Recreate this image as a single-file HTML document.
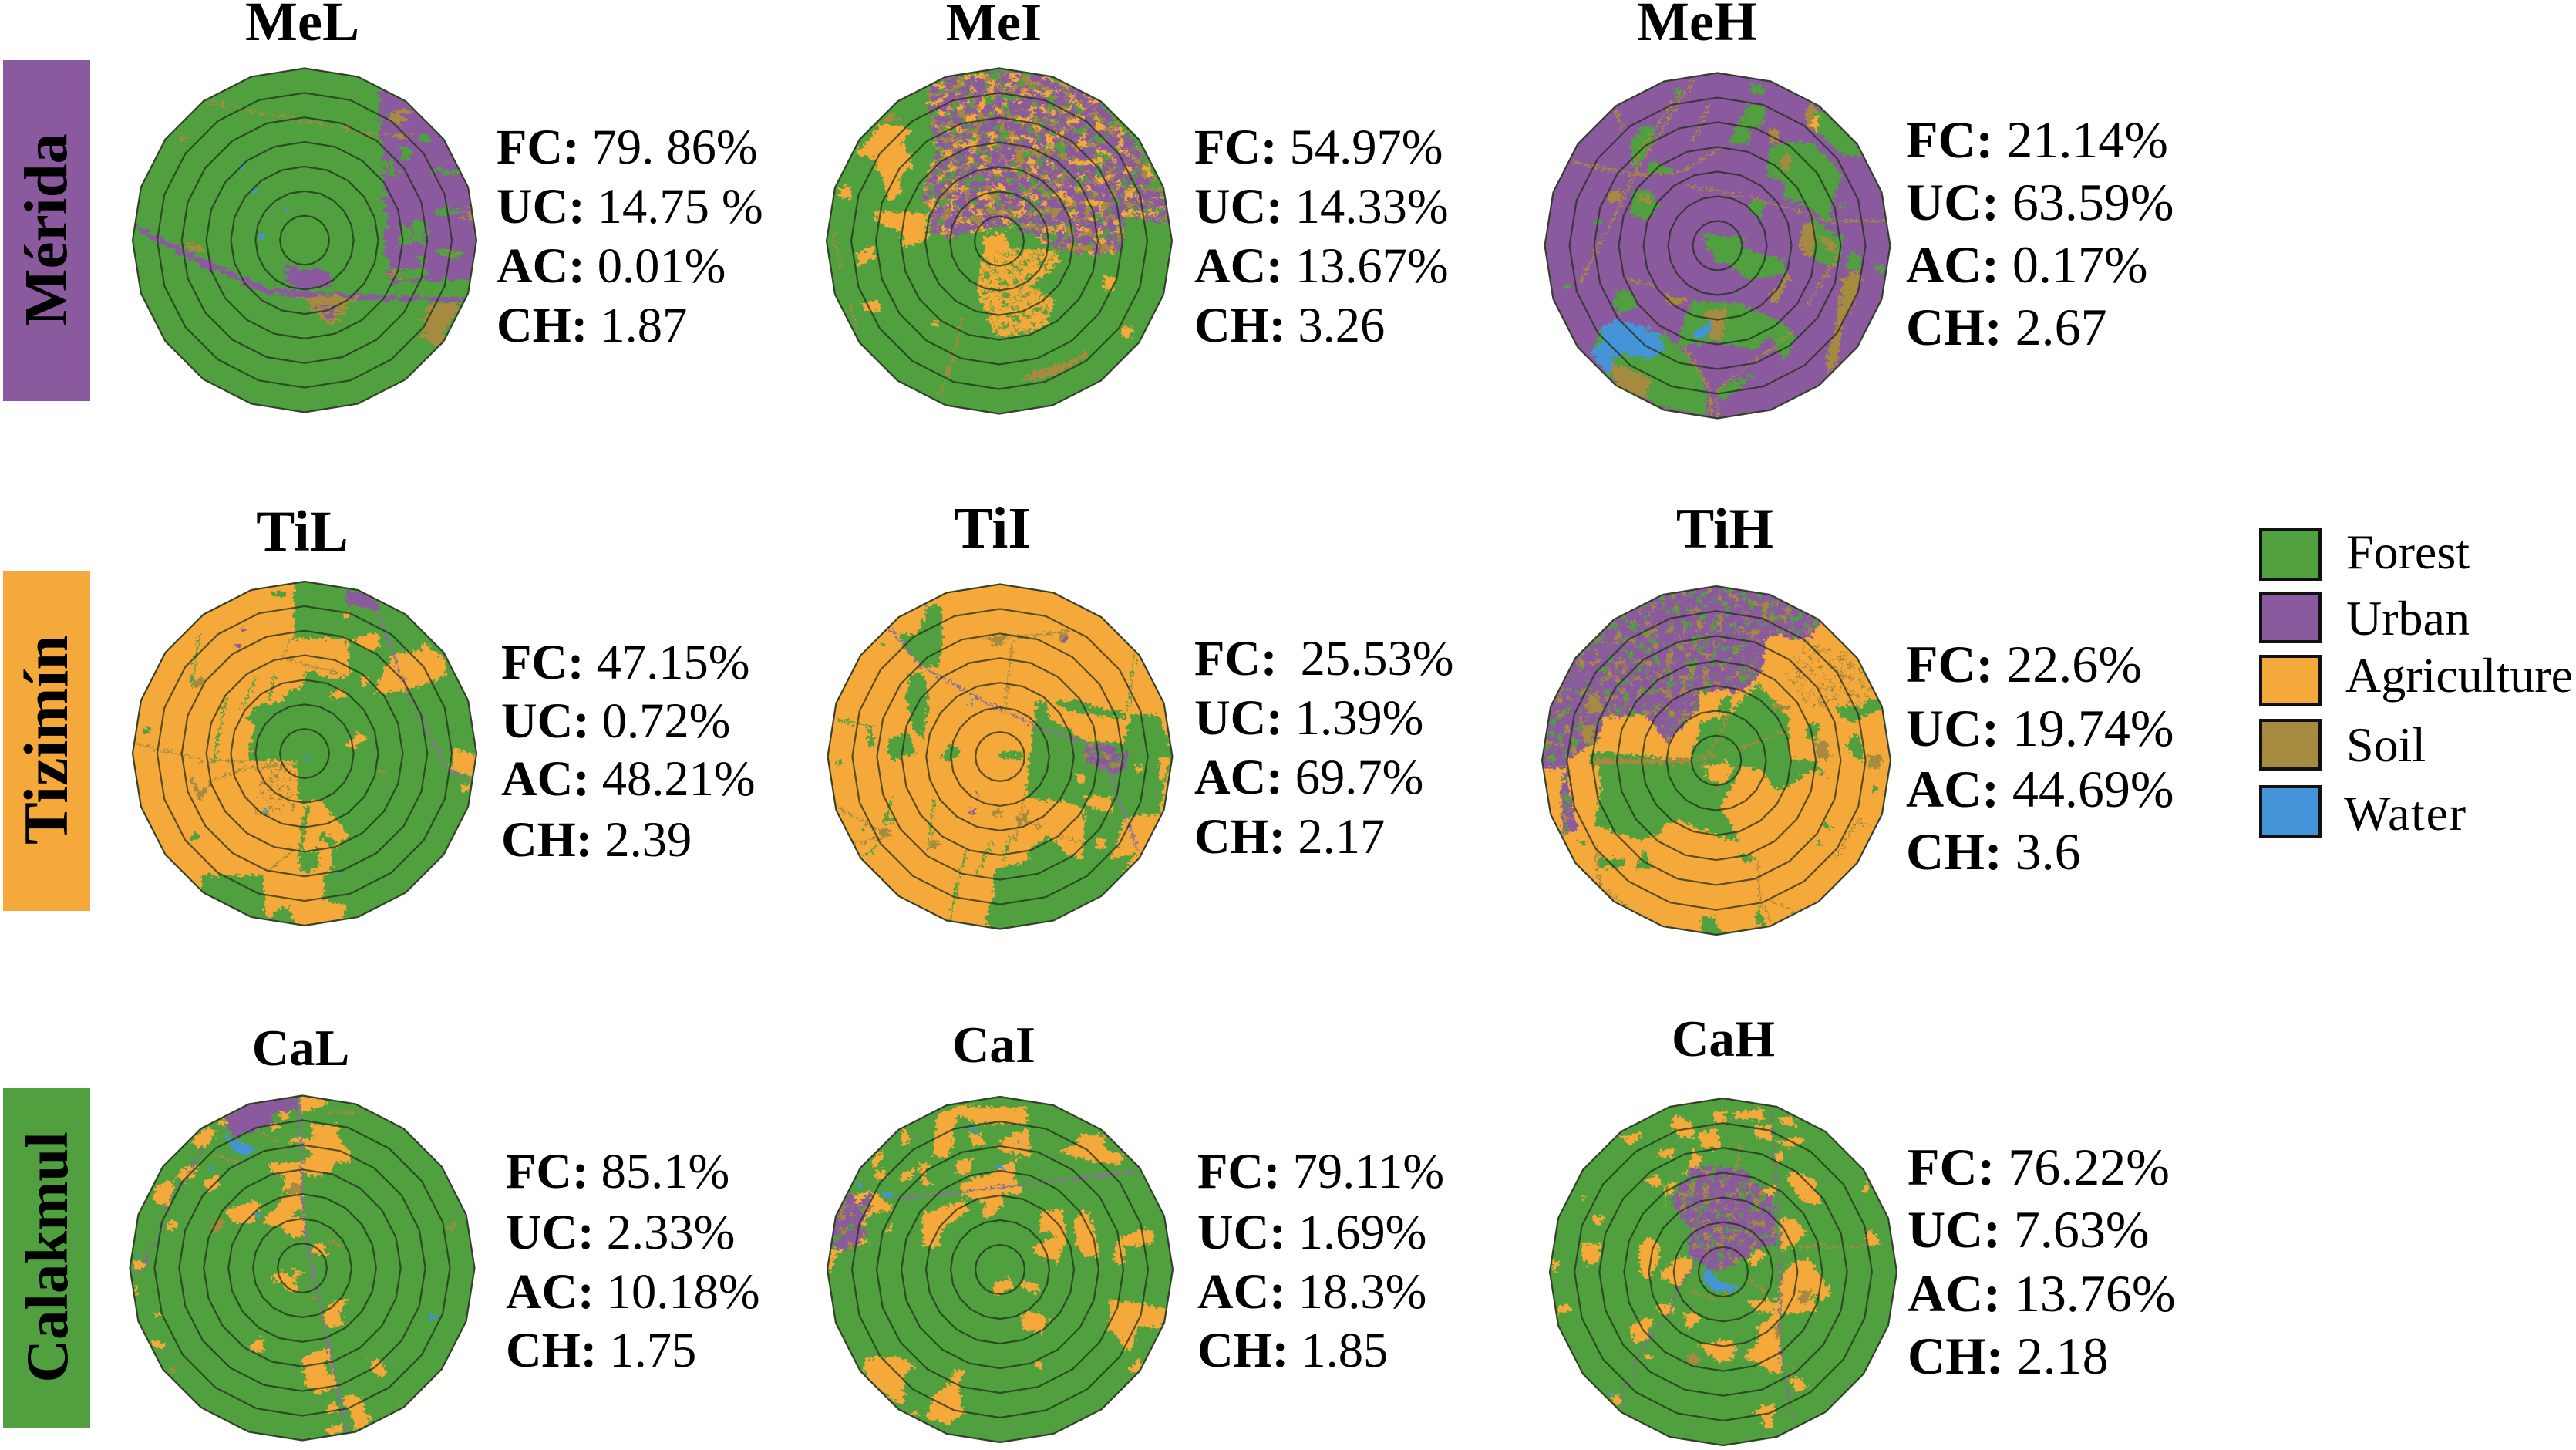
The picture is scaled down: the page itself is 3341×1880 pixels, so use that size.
<!DOCTYPE html>
<html lang="en">
<head>
<meta charset="utf-8">
<title>Land cover around Mérida, Tizimín and Calakmul</title>
<style>
html,body{margin:0;padding:0;background:#fff}
svg{display:block}
text{font-family:"Liberation Serif",serif;fill:#000}
.t{font-size:67px;font-weight:bold;text-anchor:middle}
.t.b{font-size:72px}
.st{font-size:64.5px}
.st.w6{font-size:68px}
.st tspan{font-weight:bold}
.side{font-size:77px;font-weight:bold;text-anchor:middle}
.lg{font-size:64px}
.f{fill:#50a03f}.u{fill:#8b5a9e}.a{fill:#f5a93b}.s{fill:#a68a40}.w{fill:#4594d9}
.rs{fill:none;stroke:#a68a40;stroke-width:6;stroke-linejoin:round}
.rf{fill:none;stroke:#50a03f;stroke-width:7;stroke-linejoin:round}
.ru{fill:none;stroke:#8a6f98;stroke-width:7;stroke-linejoin:round}
.rg{fill:none;stroke:#7c7480;stroke-width:7;stroke-linejoin:round}
.sw{stroke:#111;stroke-width:4}
</style>
</head>
<body>
<svg xmlns="http://www.w3.org/2000/svg" width="3341" height="1880" viewBox="0 0 3341 1880">
<defs id="defs">
  <filter id="rough" x="-5%" y="-5%" width="110%" height="110%" color-interpolation-filters="sRGB">
    <feTurbulence type="fractalNoise" baseFrequency="0.07" numOctaves="2" seed="3" result="n"/>
    <feDisplacementMap in="SourceGraphic" in2="n" scale="42" xChannelSelector="R" yChannelSelector="G"/>
  </filter>
  <filter id="mix" x="0" y="0" width="100%" height="100%" color-interpolation-filters="sRGB">
    <feTurbulence type="fractalNoise" baseFrequency="0.032" numOctaves="3" seed="5" result="n1"/>
    <feColorMatrix in="n1" values="0 0 0 0 .31 0 0 0 0 .63 0 0 0 0 .25 14 0 0 0 -7.9" result="b1"/>
    <feTurbulence type="fractalNoise" baseFrequency="0.035" numOctaves="3" seed="11" result="n2"/>
    <feColorMatrix in="n2" values="0 0 0 0 .65 0 0 0 0 .54 0 0 0 0 .25 14 0 0 0 -8" result="b2"/>
    <feTurbulence type="fractalNoise" baseFrequency="0.03" numOctaves="3" seed="23" result="n3"/>
    <feColorMatrix in="n3" values="0 0 0 0 .96 0 0 0 0 .66 0 0 0 0 .23 14 0 0 0 -8.3" result="b3"/>
    <feMerge result="m"><feMergeNode in="SourceGraphic"/><feMergeNode in="b1"/><feMergeNode in="b2"/><feMergeNode in="b3"/></feMerge>
    <feComposite in="m" in2="SourceAlpha" operator="in"/>
  </filter>
  <filter id="holes" x="0" y="0" width="100%" height="100%" color-interpolation-filters="sRGB">
    <feTurbulence type="fractalNoise" baseFrequency="0.035" numOctaves="3" seed="7" result="n1"/>
    <feColorMatrix in="n1" values="0 0 0 0 .31 0 0 0 0 .63 0 0 0 0 .25 14 0 0 0 -8.4" result="b1"/>
    <feTurbulence type="fractalNoise" baseFrequency="0.035" numOctaves="3" seed="17" result="n2"/>
    <feColorMatrix in="n2" values="0 0 0 0 .65 0 0 0 0 .54 0 0 0 0 .25 14 0 0 0 -8.3" result="b2"/>
    <feMerge result="m"><feMergeNode in="SourceGraphic"/><feMergeNode in="b2"/><feMergeNode in="b1"/></feMerge>
    <feComposite in="m" in2="SourceAlpha" operator="in"/>
  </filter>
  <filter id="speck" x="0" y="0" width="100%" height="100%" color-interpolation-filters="sRGB">
    <feTurbulence type="fractalNoise" baseFrequency="0.05" numOctaves="3" seed="31" result="n1"/>
    <feColorMatrix in="n1" values="0 0 0 0 .38 0 0 0 0 .62 0 0 0 0 .25 14 0 0 0 -7.7" result="b1"/>
    <feMerge result="m"><feMergeNode in="SourceGraphic"/><feMergeNode in="b1"/></feMerge>
    <feComposite in="m" in2="SourceAlpha" operator="in"/>
  </filter>
  <filter id="soilspeck" x="0" y="0" width="100%" height="100%" color-interpolation-filters="sRGB">
    <feTurbulence type="fractalNoise" baseFrequency="0.06" numOctaves="3" seed="41" result="n1"/>
    <feColorMatrix in="n1" values="0 0 0 0 .65 0 0 0 0 .54 0 0 0 0 .25 14 0 0 0 -8.2" result="b1"/>
    <feMerge result="m"><feMergeNode in="SourceGraphic"/><feMergeNode in="b1"/></feMerge>
    <feComposite in="m" in2="SourceAlpha" operator="in"/>
  </filter>
</defs>

<rect width="3341" height="1880" fill="#fff"/>

<!-- Region labels -->
<g>
  <rect x="4" y="78" width="113" height="442" fill="#8b5a9e"/>
  <text class="side" transform="translate(86,298) rotate(-90)" style="font-size:79px">Mérida</text>
</g>
<g>
  <rect x="4" y="740" width="113" height="441" fill="#f5a93b"/>
  <text class="side" transform="translate(87,959) rotate(-90)" style="font-size:82px">Tizimín</text>
</g>
<g>
  <rect x="4" y="1411" width="113" height="441" fill="#50a03f"/>
  <text class="side" transform="translate(87,1630) rotate(-90)">Calakmul</text>
</g>

<!-- MeL -->
<text class="t b" x="392" y="52">MeL</text>
<g class="panel" data-id="mel" data-cx="395" data-cy="311.5" data-r="223" data-base="#50a03f">
 <g class="patches" transform="translate(0,0) scale(0.6698,0.3571)">
  <g filter="url(#rough)">
   <path class="u" d="M735 325 790 370 850 450 900 560 930 800 925 1015 830 1020 760 1030 745 900 745 600 738 480Z M262 815 400 945 520 1045 640 1065 905 1082 905 1098 640 1085 520 1068 400 975 262 838Z M550 955 580 975 640 985 640 1040 590 1050 560 1030Z"/>
   <path class="f" d="M810 490 835 495 830 520 812 515Z M772 530 795 535 795 570 775 575Z M752 580 765 580 765 640 752 640Z M840 610 890 625 890 635 845 625Z M800 800 825 800 828 880 800 880Z M775 820 795 825 795 890 775 890Z M850 905 890 905 890 940 850 935Z M770 975 825 975 825 1015 770 1015Z M840 760 890 755 890 780 845 780Z M810 930 825 930 825 960 810 960Z"/>
   <path class="s" d="M750 420 790 385 780 450 760 450Z M745 490 800 480 790 500 750 500Z M585 1075 690 1075 638 1190Z M830 1100 895 1100 850 1260 815 1225Z M365 880 395 900 385 915 360 905Z M345 480 362 510 352 518Z M860 910 880 910 880 925 860 925Z M760 985 770 985 770 1015 760 1015Z M900 760 915 760 915 800 900 800Z"/>
   <path class="rs" stroke-width="7" d="M395 367 560 430 740 490"/>
   <path class="u" d="M610 1105 660 1108 636 1160Z"/>
   <path class="s" d="M622 1112 648 1114 636 1140Z"/>
   <path class="w" d="M484 685 498 688 496 705 484 702Z M548 750 562 752 560 770 548 768Z M504 852 514 854 512 868 504 866Z M466 600 472 602 470 616 466 612Z"/>
  </g>
 </g>
</g>
<text class="st" x="644" y="212"><tspan>FC:</tspan> 79. 86%</text>
<text class="st" x="644" y="289"><tspan>UC:</tspan> 14.75 %</text>
<text class="st" x="644" y="366"><tspan>AC:</tspan> 0.01%</text>
<text class="st" x="644" y="443"><tspan>CH:</tspan> 1.87</text>

<!-- MeI -->
<text class="t b" x="1289" y="52" style="font-size:70px">MeI</text>
<g class="panel" data-id="mei" data-cx="1296" data-cy="312.5" data-r="224" data-base="#50a03f">
 <g class="patches" transform="translate(1000,60) scale(0.3827,0.3333)">
  <g filter="url(#rough)">
   <path class="u" filter="url(#mix)" d="M530 170 610 110 770 95 940 115 1100 205 1250 395 1345 620 1345 695 1200 660 1190 795 1100 815 960 790 870 730 800 700 700 720 610 745 540 725 540 640 510 600 530 500 560 400 540 300 530 230Z"/>
   <path class="a" d="M285 420 370 310 440 305 480 330 440 370 470 420 480 460 430 520 445 560 400 610 380 520 340 430Z M350 640 530 650 530 750 450 785 440 720 360 690Z M230 550 265 545 275 590 235 595Z M290 820 340 770 355 820 300 860Z M305 1000 365 985 370 1030 320 1030Z M1130 890 1160 895 1160 950 1130 955Z M1180 1100 1205 1085 1235 1110 1200 1140Z M720 740 790 720 810 790 780 840 720 820Z M545 1075 570 1070 570 1085 548 1088Z"/>
   <path class="a" filter="url(#speck)" d="M710 830 800 790 900 790 980 800 970 850 880 930 960 985 930 1090 800 1135 760 1125 700 970 705 880Z"/>
   <path class="s" d="M370 290 410 255 440 290Z M850 1300 900 1260 1000 1230 1060 1190 1080 1200 1000 1260 900 1300Z"/>
   <path class="rs" d="M650 1060 630 1150 600 1260 570 1360 M210 730 240 860 M265 1000 290 1100"/>
  </g>
 </g>
</g>
<text class="st" x="1549" y="212"><tspan>FC:</tspan> 54.97%</text>
<text class="st" x="1549" y="289"><tspan>UC:</tspan> 14.33%</text>
<text class="st" x="1549" y="366"><tspan>AC:</tspan> 13.67%</text>
<text class="st" x="1549" y="443"><tspan>CH:</tspan> 3.26</text>

<!-- MeH -->
<text class="t b" x="2201" y="52">MeH</text>
<g class="panel" data-id="meh" data-cx="2227.5" data-cy="318.5" data-r="224" data-base="#8b5a9e">
 <g class="patches" transform="translate(1950,60) scale(0.3827,0.3333)">
  <g filter="url(#rough)">
   <path class="f" d="M1055 230 1130 290 1230 430 1150 425 1060 330Z M830 220 890 240 880 310 830 320 830 380 760 380 790 320Z M900 390 980 370 1050 380 1150 500 1110 620 1110 690 1030 620 950 590 950 530 895 510Z M840 600 890 600 870 670 830 640Z M1020 690 1060 680 1130 740 1150 740 1140 830 1110 860 1040 820 1000 770Z M670 725 810 745 810 790 950 830 960 880 880 900 830 910 770 850 720 840Z M1180 790 1215 830 1210 870 1160 860Z M1250 840 1300 860 1280 890Z M1130 610 1170 620 1150 645Z M480 300 520 330 480 420 440 480 430 370Z M500 440 590 490 490 500Z M580 170 610 170 590 210Z M840 140 890 160 880 195 840 180Z M305 670 340 680 320 700Z M215 925 235 930 200 955Z M385 950 430 950 455 1010 400 1040 375 1000Z M440 560 490 560 530 620 480 680 430 650Z M640 990 800 1000 880 1040 960 1090 990 1130 950 1220 900 1120 860 1180 700 1150 590 1170 610 1060Z M300 1190 330 1100 440 1080 540 1120 590 1160 660 1250 690 1360 690 1440 530 1400 400 1330 350 1280Z M720 1340 800 1290 850 1280 790 1340 740 1380Z"/>
   <path class="s" d="M1015 280 1040 220 1060 240 1050 340 1030 300Z M1150 910 1190 870 1215 900 1190 980 1150 1090 1130 1240 1100 1280 1095 1210 1120 1120Z M1020 690 1050 690 1060 760 1040 830 1000 770Z M1080 730 1130 770 1120 800 1080 770Z M350 570 400 560 390 610 360 600Z M360 1230 500 1290 480 1370 380 1330Z M680 1030 760 1020 740 1150 700 1140Z M550 965 620 985 600 1010 560 1000Z M900 320 930 320 940 380 900 370Z M460 580 500 590 500 610 460 600Z M940 420 970 420 970 480 945 480Z M900 980 960 890 970 900 920 1010Z"/>
   <path class="a" d="M1045 280 1070 265 1060 335 1045 320Z"/>
   <path class="w" d="M340 1090 380 1065 470 1090 530 1130 550 1185 490 1215 400 1195 370 1220 360 1285 295 1195 330 1150Z M640 1110 680 1090 705 1055 705 1090 680 1135 650 1135Z"/>
   <path class="rs" stroke-width="7" d="M230 450 440 500 600 490 750 390 M610 540 850 590 1100 680 1300 680 M640 130 450 490 260 920 M600 170 430 470 M700 220 640 370 M430 910 510 930 M600 1150 700 1340 700 1440 M980 1110 720 1340 730 1440 M1030 1010 1140 800 M380 250 410 340"/>
  </g>
 </g>
</g>
<text class="st w6" x="2472" y="204"><tspan>FC:</tspan> 21.14%</text>
<text class="st w6" x="2472" y="285"><tspan>UC:</tspan> 63.59%</text>
<text class="st w6" x="2472" y="366"><tspan>AC:</tspan> 0.17%</text>
<text class="st w6" x="2472" y="447"><tspan>CH:</tspan> 2.67</text>

<!-- TiL -->
<text class="t b" x="392" y="714" style="font-size:75px">TiL</text>
<g class="panel" data-id="til" data-cx="395" data-cy="977" data-r="223" data-base="#50a03f">
 <g class="patches" transform="translate(150,730) scale(0.3333)">
  <g filter="url(#rough)">
   <path class="a" d="M695 60 695 270 680 300 720 295 900 290 910 340 910 440 850 450 760 430 730 480 680 500 640 540 560 555 505 600 540 630 530 690 515 770 700 770 705 900 720 930 800 925 850 990 910 1060 860 1100 840 1120 840 1190 810 1220 810 1310 895 1330 890 1400 730 1430 690 1390 660 1340 620 1350 610 1385 580 1370 575 1215 340 1215 330 1280 240 1190 60 1000 30 740 60 500 300 150 500 50Z M1040 420 1090 350 1190 340 1200 310 1280 370 1285 440 1140 495 1030 510 1010 500Z M930 290 1020 270 1030 330 980 340 920 300Z M885 195 915 190 905 215 890 215Z M950 440 980 440 990 470 960 475Z M900 700 930 680 940 655 980 680 930 720 900 720Z M1310 730 1340 725 1420 745 1385 830 1300 800 1310 780Z M1340 860 1380 860 1370 895 1345 880Z M830 510 880 490 900 520 840 525Z"/>
   <path class="f" d="M715 1130 790 1110 790 1190 740 1205 715 1190Z M735 950 755 950 725 1130 710 1130Z M800 1040 860 1085 840 1110 790 1070Z M610 110 670 110 660 135 610 130Z M105 650 130 635 135 660 110 665Z M285 1070 320 1045 325 1075 295 1080Z M740 420 780 420 790 470 730 480Z M620 1350 680 1340 690 1400 610 1390Z"/>
   <path class="rf" d="M325 280 295 490 M550 440 490 570 M620 430 595 540 M430 520 380 780"/>
   <path class="a" filter="url(#soilspeck)" d="M560 780 700 780 710 920 690 970 540 990 550 900Z"/>
   <path class="rs" d="M75 700 350 770 510 770 M360 850 500 800 700 780 M650 375 680 290 M650 370 910 440 M600 1190 700 1110"/>
   <path class="s" d="M285 830 300 830 330 890 375 845 375 860 325 920Z M300 470 330 440 345 470 310 490Z M1030 805 1050 800 1050 820 1030 820Z"/>
   <path class="u" d="M895 110 950 110 1025 155 1020 190 990 180 900 160Z M484 250 500 250 500 268 484 268Z M470 318 485 318 485 335 470 335Z"/>
   <path class="ru" d="M1020 190 1130 490 1290 800 1380 850"/>
   <path class="w" d="M735 750 748 750 748 765 735 765Z M575 955 590 955 590 968 575 968Z M868 1198 885 1198 885 1210 868 1210Z"/>
  </g>
 </g>
</g>
<text class="st" x="650" y="880"><tspan>FC:</tspan> 47.15%</text>
<text class="st" x="650" y="956"><tspan>UC:</tspan> 0.72%</text>
<text class="st" x="650" y="1031"><tspan>AC:</tspan> 48.21%</text>
<text class="st" x="650" y="1110"><tspan>CH:</tspan> 2.39</text>

<!-- TiI -->
<text class="t b" x="1287" y="710" style="font-size:76px">TiI</text>
<g class="panel" data-id="tii" data-cx="1297" data-cy="981" data-r="223.5" data-base="#f5a93b">
 <g class="patches" transform="translate(1040,730) scale(0.3333)">
  <g filter="url(#rough)">
   <path class="f" d="M490 165 545 170 550 300 530 400 480 410 400 340 380 270 450 280Z M420 430 480 430 490 560 470 690 430 640 405 520Z M340 680 420 660 440 750 390 750 360 770 330 730Z M540 760 570 710 620 730 590 770 550 770Z M760 740 860 735 860 765 770 760Z M900 630 915 530 950 540 960 600 1060 660 1100 690 1250 700 1280 590 1390 590 1420 680 1460 750 1410 860 1390 980 1300 980 1250 1000 1230 1090 1200 1140 1300 1130 1200 1290 1100 1360 900 1420 770 1440 710 1390 745 1300 750 1190 880 1160 880 1120 960 1060 1030 1130 1095 1150 1100 960 1040 930 870 915Z M985 540 1070 530 1140 560 1260 580 1260 610 1130 590 1040 580Z M230 1025 245 1025 245 1045 230 1045Z M310 990 370 995 360 1015 315 1010Z M255 640 280 660 280 720 260 700Z M135 770 155 775 145 800Z M300 310 320 310 315 325Z"/>
   <path class="a" d="M1070 825 1100 825 1105 855 1075 858Z M1145 1075 1178 1075 1178 1110 1145 1110Z M1208 1118 1238 1118 1238 1150 1208 1150Z M1298 785 1322 788 1318 812 1298 808Z M1390 750 1440 760 1400 860 1388 800Z M1100 910 1200 910 1210 970 1110 950Z"/>
   <path class="u" filter="url(#holes)" d="M1100 710 1180 700 1270 740 1260 800 1200 830 1140 790 1100 770Z"/>
   <path class="rf" d="M515 920 490 1120 M640 1120 615 1200 M740 1080 680 1210 M810 1070 785 1160 M610 1220 575 1400 M300 1090 245 1140 M1295 360 1270 570 M140 610 280 640 M350 910 330 990"/>
   <path class="rs" d="M820 300 790 570 M710 300 1040 265 M140 950 300 1040 M200 1085 310 1075 M990 1060 1090 1085 M865 920 830 1080"/>
   <path class="s" d="M725 290 790 280 785 320 740 315Z M1000 275 1035 270 1030 315 1005 305Z M295 1030 350 1035 345 1065 310 1065Z M500 1085 530 1080 525 1110 505 1110Z M835 990 880 970 885 1010 840 1020Z M740 960 780 960 770 985 745 985Z M900 1020 930 1020 925 1040Z"/>
   <path class="ru" d="M345 255 460 400 780 575 900 630 1100 700 1200 830 1310 1120"/>
   <path class="u" d="M655 955 675 955 672 980 655 975Z M1015 285 1035 285 1030 310 1015 305Z M680 885 690 885 688 905 678 905Z"/>
   <path class="w" d="M650 535 664 535 664 550 650 550Z"/>
  </g>
 </g>
</g>
<text class="st" x="1549" y="875"><tspan>FC:</tspan> <tspan dx="14" style="font-weight:normal">25.53%</tspan></text>
<text class="st" x="1549" y="952"><tspan>UC:</tspan> 1.39%</text>
<text class="st" x="1549" y="1029"><tspan>AC:</tspan> 69.7%</text>
<text class="st" x="1549" y="1106"><tspan>CH:</tspan> 2.17</text>

<!-- TiH -->
<text class="t b" x="2237" y="710" style="font-size:74px">TiH</text>
<g class="panel" data-id="tih" data-cx="2226" data-cy="986" data-r="226" data-base="#f5a93b">
 <g class="patches" transform="translate(1980,730) scale(0.3333)">
  <g filter="url(#rough)">
   <path class="u" filter="url(#holes)" d="M40 760 50 600 180 310 400 150 735 70 950 105 1150 215 1110 290 1030 300 990 280 930 290 920 400 880 470 800 510 790 490 660 510 680 560 620 620 550 700 500 640 460 590 300 600 280 690 200 740 160 770 170 900 200 1040 140 1060 130 900 150 800 90 800 40 800Z"/>
   <path class="f" d="M250 730 550 760 640 760 680 620 800 580 850 520 900 470 1020 600 1020 760 1120 770 1180 840 1120 800 1020 870 970 880 920 810 840 790 750 950 820 1050 830 1090 740 1060 600 1000 540 1010 520 1050 440 1080 300 1030 260 1020 290 880 280 790 250 780Z M800 510 790 580 745 580 760 530Z M1200 545 1370 530 1380 570 1260 620 1220 600Z M1240 710 1280 660 1310 710 1310 770 1270 750Z M1090 630 1140 620 1130 690 1090 680Z M680 1380 730 1370 740 1410 780 1460 680 1460Z M280 1150 380 1150 375 1185 280 1185Z M420 1190 460 1120 490 1190Z M830 1130 880 1140 885 1165 840 1160Z M1150 1010 1190 1020 1170 1035Z M1130 1080 1150 1100 1125 1105Z M900 1330 930 1400 895 1410Z M205 1080 235 1085 220 1105Z M1350 860 1365 870 1345 900Z"/>
   <path class="a" d="M700 790 780 770 810 800 760 860 700 840Z"/>
   <path class="a" filter="url(#soilspeck)" d="M1090 300 1280 360 1350 500 1300 560 1100 560 1000 450 1050 350Z"/>
   <path class="s" d="M1120 700 1170 690 1180 770 1130 760Z M1330 740 1390 760 1370 810 1330 790Z M950 540 1030 560 1010 570 960 570Z M215 640 260 630 260 700 225 700Z M240 510 280 530 300 580 240 590Z M260 762 640 762 640 782 260 782Z"/>
   <path class="rs" d="M270 1100 285 1260 400 1340 M900 1160 910 1320 950 1390 M940 1310 1100 1380 M640 770 800 730 1020 650 M680 800 790 590 M750 880 720 860 M1200 1150 1290 1000 1340 1030"/>
  </g>
 </g>
</g>
<text class="st w6" x="2472" y="884"><tspan>FC:</tspan> 22.6%</text>
<text class="st w6" x="2472" y="967"><tspan>UC:</tspan> 19.74%</text>
<text class="st w6" x="2472" y="1046"><tspan>AC:</tspan> 44.69%</text>
<text class="st w6" x="2472" y="1127"><tspan>CH:</tspan> 3.6</text>

<!-- CaL -->
<text class="t" x="390" y="1381">CaL</text>
<g class="panel" data-id="cal" data-cx="392" data-cy="1644" data-r="223.5" data-base="#50a03f">
 <g class="patches" transform="translate(150,1400) scale(0.3333)">
  <g filter="url(#rough)">
   <path class="u" d="M420 145 530 90 700 60 710 115 610 130 610 170 530 200 460 230 440 180Z"/>
   <path class="a" d="M715 50 830 80 810 100 730 125 715 130Z M280 250 345 190 395 190 380 230 340 265Z M240 370 290 330 325 345 300 385 260 400Z M160 410 230 395 220 440 210 490 160 480 145 450Z M195 560 240 545 240 575 205 590Z M345 390 400 370 400 410 370 440 350 420Z M420 510 540 470 565 490 530 560 470 560Z M580 540 640 480 650 450 720 440 730 560 735 610 690 610 640 570 580 560Z M640 440 660 400 650 370 600 355 600 325 720 320 770 290 730 250 670 240 700 220 770 230 760 175 860 175 870 230 920 290 910 320 850 320 840 360 770 380 720 350 730 440Z M760 650 800 630 825 680 770 680Z M615 760 640 745 690 770 695 730 725 750 700 770 705 825 670 820 640 780 615 790Z M810 910 850 860 910 850 870 900 890 955 840 960 820 960Z M515 1040 570 1000 580 1050 550 1065Z M725 1080 830 1040 845 1100 865 1200 780 1220 740 1190 730 1120Z M985 1090 1025 1085 1050 1130 1045 1155 1000 1140Z M880 1250 910 1220 955 1240 990 1330 930 1370 915 1290Z M815 1280 850 1245 870 1290 830 1300Z M820 1350 880 1340 880 1370 830 1385Z M65 710 100 695 115 730 80 745Z M130 1010 200 1025 180 1050 150 1040Z M640 130 680 125 670 155 640 150Z M605 175 640 170 640 195 610 195Z M390 160 430 155 430 175 400 180Z M155 910 175 905 175 920 155 920Z M70 800 85 800 85 840 75 840Z"/>
   <path class="s" d="M650 440 690 400 730 410 730 450Z M365 570 410 535 425 570 390 595Z M1290 570 1320 545 1315 600Z M210 1130 250 1100 220 1145Z M1090 1255 1110 1255 1105 1275Z M755 840 770 840 770 855 755 855Z"/>
   <path class="f" d="M690 510 725 505 725 535 690 535Z M815 1100 840 1100 845 1150 820 1150Z"/>
   <path class="w" d="M425 205 450 230 560 270 500 295 470 280 430 235Z M1220 910 1250 920 1235 940 1220 930Z M365 325 385 350 370 350Z M75 675 95 685 80 690Z M545 520 565 520 550 545Z"/>
   <path class="rs" d="M550 200 640 250 M380 290 480 320 M810 125 950 125 M650 270 670 320 M820 620 890 650"/>
   <path class="ru" d="M715 60 725 400 735 580 760 700 800 900 860 1180 900 1370"/>
   <path class="rg" d="M340 270 200 500 160 630 120 660 120 730 70 745"/>
  </g>
 </g>
</g>
<text class="st" x="656" y="1540"><tspan>FC:</tspan> 85.1%</text>
<text class="st" x="656" y="1619"><tspan>UC:</tspan> 2.33%</text>
<text class="st" x="656" y="1696"><tspan>AC:</tspan> 10.18%</text>
<text class="st" x="656" y="1772"><tspan>CH:</tspan> 1.75</text>

<!-- CaI -->
<text class="t" x="1289" y="1377">CaI</text>
<g class="panel" data-id="cai" data-cx="1297" data-cy="1646" data-r="224" data-base="#50a03f">
 <g class="patches" transform="translate(1050,1400) scale(0.3333)">
  <g filter="url(#rough)">
   <path class="a" d="M485 210 500 130 590 100 840 110 855 170 640 170 590 135 565 170 560 250 530 310 480 290Z M755 230 850 190 860 300 750 280 720 260Z M620 210 670 210 680 250 640 260Z M360 190 385 190 385 250 360 255Z M240 320 280 270 290 300 250 345Z M250 370 290 340 300 380 270 395Z M350 380 405 340 410 375 360 400Z M420 320 470 330 440 370 480 410 445 415Z M570 320 640 300 620 370 580 370Z M700 370 800 310 800 380 830 450 750 440 750 490 700 540 670 530 690 480 600 450 590 410 640 380Z M440 520 600 470 620 510 510 590 510 650 440 650Z M900 515 985 505 1000 620 965 710 880 680 870 650 960 610 930 590 895 590Z M1030 550 1060 510 1090 520 1130 680 1080 700 1040 650Z M1180 710 1200 620 1290 580 1340 590 1335 640 1230 650 1220 720Z M715 790 780 770 800 800 750 830 715 830Z M815 790 860 785 895 800 890 830 820 805Z M830 905 890 905 930 935 900 985 825 970Z M870 1095 905 1095 910 1125 880 1125Z M1170 855 1290 870 1390 890 1370 960 1280 960 1260 1040 1230 1060 1200 1000 1160 970Z M1240 1130 1285 1080 1295 1115 1270 1140Z M965 280 1040 250 1050 210 1140 215 1150 270 1220 290 1210 330 1090 315Z M215 1080 350 1080 410 1110 370 1150 365 1270 300 1230 215 1150Z M480 1230 550 1180 560 1130 610 1125 580 1180 600 1300 540 1340 450 1310Z M380 1290 430 1290 405 1310Z M80 660 130 660 90 700 90 740 70 730Z M165 450 240 430 320 490 320 510 240 520 190 590 230 640 180 640 160 560Z M295 570 325 565 325 590 300 595Z"/>
   <path class="u" filter="url(#holes)" d="M90 560 160 430 190 490 240 430 240 490 200 560 230 590 170 660 90 660Z"/>
   <path class="w" d="M185 395 205 410 190 430Z M285 435 325 440 325 460 285 455Z M615 180 650 180 650 200 620 195Z M730 335 750 335 750 350 730 350Z M805 235 815 235 815 250 805 250Z"/>
   <path class="ru" stroke-width="9" d="M330 465 820 410 1290 355"/>
  </g>
 </g>
</g>
<text class="st" x="1553" y="1540"><tspan>FC:</tspan> 79.11%</text>
<text class="st" x="1553" y="1619"><tspan>UC:</tspan> 1.69%</text>
<text class="st" x="1553" y="1696"><tspan>AC:</tspan> 18.3%</text>
<text class="st" x="1553" y="1772"><tspan>CH:</tspan> 1.85</text>

<!-- CaH -->
<text class="t" x="2235" y="1369">CaH</text>
<g class="panel" data-id="cah" data-cx="2235" data-cy="1649" data-r="225" data-base="#50a03f">
 <g class="patches" transform="translate(1980,1400) scale(0.3333)">
  <g filter="url(#rough)">
   <path class="u" filter="url(#holes)" d="M560 470 620 380 650 330 740 340 850 350 880 400 960 440 975 640 880 660 860 690 820 710 730 750 690 720 630 680 630 620 640 580 590 520Z"/>
   <path class="a" d="M560 170 590 135 650 180 650 230 590 220Z M370 230 440 195 440 235 400 255Z M670 210 740 190 755 270 680 265Z M725 120 780 120 770 170 730 165Z M800 125 920 115 920 155 810 150Z M885 190 950 175 950 235 890 225Z M975 240 1060 220 1085 240 1020 265Z M985 150 1030 140 1050 180 1000 175Z M960 290 1000 285 990 320 965 320Z M510 280 580 260 570 300 520 305Z M640 270 690 300 660 340 620 350 620 380 640 310Z M460 390 510 360 530 410 490 415Z M540 410 590 390 560 450 535 450 545 500Z M255 530 300 525 295 555 265 565Z M215 640 290 640 285 700 240 725 215 690Z M95 700 125 705 120 740 98 740Z M120 880 160 870 180 900 120 910Z M440 640 470 610 520 640 510 720 470 780 440 750Z M520 750 590 690 650 700 640 750 590 800 530 780Z M500 890 570 860 575 900 540 925Z M400 960 470 920 495 935 470 1015 420 1020Z M450 1060 500 1080 470 1090Z M670 1030 790 1010 820 1040 800 1085 750 1100 700 1060Z M610 910 650 900 680 930 630 970Z M840 1080 900 1030 900 960 980 900 990 1140 950 1140 900 1100Z M860 860 980 860 985 760 1040 710 1100 700 1140 760 1190 830 1150 860 1110 830 1130 900 1000 910 890 900Z M980 540 1040 540 1090 590 1040 650 985 660Z M1005 380 1040 360 1130 390 1120 430 1150 480 1080 480 1040 430Z M1310 420 1330 395 1335 430 1310 445Z M1320 600 1340 580 1380 640 1325 645Z M1025 1170 1060 1155 1095 1200 1050 1210Z M880 1290 915 1270 960 1260 975 1290 950 1310 970 1355 925 1355 915 1305Z M325 1235 360 1225 370 1260 345 1270Z M860 700 900 660 930 680 890 725Z M915 420 970 410 960 450 930 445Z M215 455 230 455 225 475Z"/>
   <path class="s" d="M625 1070 660 1070 685 1090 640 1115Z M960 960 985 950 985 1000 965 1000Z M1060 830 1110 820 1090 870 1060 870Z"/>
   <path class="w" d="M685 740 710 735 750 790 825 800 800 830 740 825 695 790Z M610 860 635 880 620 880Z M330 1205 345 1205 345 1222 330 1222Z M805 1050 825 1050 815 1075Z"/>
   <path class="rs" d="M1060 650 1320 650 M830 250 820 340 M630 825 740 850 780 830 M860 770 930 830 M1040 1120 1020 1170"/>
   <path class="rg" d="M950 110 985 540 990 1100 1045 1340 M665 710 590 810 560 900 480 1000 420 1100 420 1160 380 1190 370 1260"/>
  </g>
 </g>
</g>
<text class="st w6" x="2474" y="1536"><tspan>FC:</tspan> 76.22%</text>
<text class="st w6" x="2474" y="1617"><tspan>UC:</tspan> 7.63%</text>
<text class="st w6" x="2474" y="1700"><tspan>AC:</tspan> 13.76%</text>
<text class="st w6" x="2474" y="1781"><tspan>CH:</tspan> 2.18</text>

<!-- Legend -->
<g>
  <g><rect class="f sw" x="2932" y="686" width="77" height="65"/><text class="lg" x="3043" y="737">Forest</text></g>
  <g><rect class="u sw" x="2932" y="769" width="77" height="63"/><text class="lg" x="3043" y="823">Urban</text></g>
  <g><rect class="a sw" x="2932" y="851" width="77" height="63"/><text class="lg" x="3042" y="897">Agriculture</text></g>
  <g><rect class="s sw" x="2932" y="934" width="77" height="63"/><text class="lg" x="3043" y="987">Soil</text></g>
  <g><rect class="w sw" x="2932" y="1020" width="77" height="64"/><text class="lg" x="3040" y="1076" textLength="158">Water</text></g>
</g>

<script>
const ringCount = 7;
const polygonSides = 20;
const NS = 'http://www.w3.org/2000/svg';
function ringPoints(cx, cy, radius) {
  const pts = [];
  for (let i = 0; i < polygonSides; i++) {
    const a = -Math.PI / 2 + i * 2 * Math.PI / polygonSides;
    pts.push((cx + radius * Math.cos(a)).toFixed(1) + ',' + (cy + radius * Math.sin(a)).toFixed(1));
  }
  return pts.join(' ');
}
const defs = document.getElementById('defs');
document.querySelectorAll('.panel').forEach(function (panel) {
  const cx = +panel.getAttribute('data-cx');
  const cy = +panel.getAttribute('data-cy');
  const r = +panel.getAttribute('data-r');
  const id = panel.getAttribute('data-id');
  const outer = ringPoints(cx, cy, r);

  const clip = document.createElementNS(NS, 'clipPath');
  clip.setAttribute('id', 'clip-' + id);
  const clipShape = document.createElementNS(NS, 'polygon');
  clipShape.setAttribute('points', outer);
  clip.appendChild(clipShape);
  defs.appendChild(clip);

  const base = document.createElementNS(NS, 'polygon');
  base.setAttribute('points', outer);
  base.setAttribute('fill', panel.getAttribute('data-base'));
  
  
  panel.insertBefore(base, panel.firstChild);

  const patches = panel.querySelector('.patches');
  const clipGroup = document.createElementNS(NS, 'g');
  clipGroup.setAttribute('clip-path', 'url(#clip-' + id + ')');
  
  
  panel.insertBefore(clipGroup, patches);
  clipGroup.appendChild(patches);

  for (let k = 1; k <= ringCount; k++) {
    const ring = document.createElementNS(NS, 'polygon');
    ring.setAttribute('points', ringPoints(cx, cy, r * k / ringCount));
    ring.setAttribute('fill', 'none');
    ring.setAttribute('stroke', k === ringCount ? '#2c3a24' : '#1d2a18');
    ring.setAttribute('stroke-opacity', k === ringCount ? '0.95' : '0.72');
    ring.setAttribute('stroke-width', '2.2');
    ring.setAttribute('stroke-linejoin', 'round');
    
    
    panel.appendChild(ring);
  }
});
</script>
</svg>
</body>
</html>
